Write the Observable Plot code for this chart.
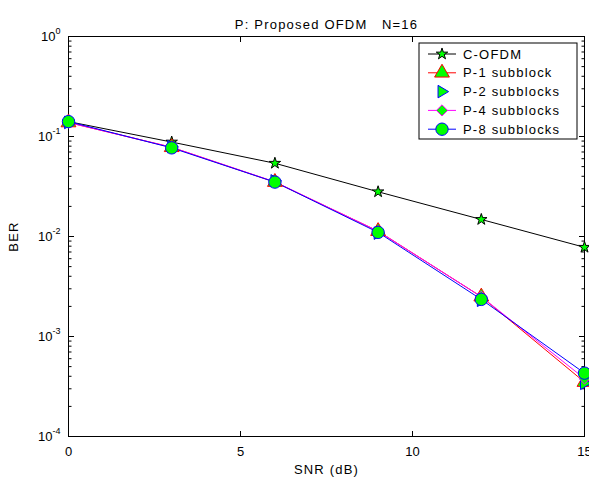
<!DOCTYPE html>
<html><head><meta charset="utf-8">
<script src="https://cdn.jsdelivr.net/npm/d3@7"></script>
<script src="https://cdn.jsdelivr.net/npm/@observablehq/plot@0.6"></script>
<style>
body{margin:0;background:#fff}
svg{font-family:"Liberation Sans",Arial,Helvetica,sans-serif}
</style>
</head><body><div id="chart"></div>
<script>
// ---- data ----
const title = "P: Proposed OFDM   N=16";
const xLabel = "SNR (dB)";
const yLabel = "BER";
const snr = [0, 3, 6, 9, 12, 15];
const seriesNames = ["C-OFDM", "P-1 subblock", "P-2 subblocks", "P-4 subblocks", "P-8 subblocks"];
const berC  = [0.141, 0.088, 0.054, 0.028, 0.0148, 0.0078];
const berP1 = [0.138, 0.078, 0.035, 0.0113, 0.0025, 0.00035];
const berP2 = [0.138, 0.079, 0.036, 0.0108, 0.0023, 0.00034];
const berP4 = [0.138, 0.078, 0.0352, 0.0113, 0.0025, 0.00038];
const berP8 = [0.141, 0.077, 0.035, 0.011, 0.00235, 0.00043];
const xTicks = [0, 5, 10, 15];
const yMajor = [1e-4, 1e-3, 1e-2, 1e-1, 1];

// ---- styles ----
const LS = "1.2px";
const triRight = {draw(ctx, size){ const s = Math.sqrt(size) * 0.62;
  ctx.moveTo(s, 0); ctx.lineTo(-s*0.6, -s*0.95); ctx.lineTo(-s*0.6, s*0.95); ctx.closePath(); }};
const styles = [
  {values: berC,  line: "black",   edge: "black",   symbol: "star",     r: 3.6},
  {values: berP1, line: "#ff0000", edge: "#ff0000", symbol: "triangle", r: 5.5},
  {values: berP2, line: null,      edge: "#0000ff", symbol: triRight,   r: 6},
  {values: berP4, line: "#ff00ff", edge: "#ff00ff", symbol: "diamond2", r: 5},
  {values: berP8, line: "#0000ff", edge: "#0000ff", symbol: "circle",   r: 6.2}
];
const series = styles.map((s, i) => ({...s, name: seriesNames[i],
  data: snr.map((x, j) => ({snr: x, ber: s.values[j]}))}));

const yMinor = [];
for (let e = -4; e < 0; e++) for (let m = 2; m <= 9; m++) yMinor.push(m * Math.pow(10, e));

const marks = [
  Plot.frame({stroke: "black", strokeWidth: 1}),
  Plot.axisX(xTicks, {anchor: "bottom", tickSize: -5, text: null, label: null}),
  Plot.axisX(xTicks, {anchor: "top", tickSize: -5, text: null, label: null}),
  Plot.axisX(xTicks, {anchor: "bottom", tickSize: 0, tickPadding: 10, fontSize: 13,
    label: xLabel, labelAnchor: "center", labelArrow: "none", labelOffset: 37}),
  Plot.axisY(yMajor, {anchor: "left", tickSize: -6, text: null, label: null}),
  Plot.axisY(yMajor, {anchor: "right", tickSize: -6, text: null, label: null}),
  Plot.axisY(yMinor, {anchor: "left", tickSize: -3.5, text: null, label: null}),
  Plot.axisY(yMinor, {anchor: "right", tickSize: -3.5, text: null, label: null}),
  Plot.axisY(yMajor, {anchor: "left", tickSize: 0, tickPadding: 8, fontSize: 13,
    tickFormat: d => "10^" + Math.round(Math.log10(d)),
    label: yLabel, labelAnchor: "center", labelArrow: "none", labelOffset: 60}),
  Plot.text([title], {frameAnchor: "top", dy: -16.5, fontSize: 13, fill: "black"})
];
for (const s of series) {
  if (s.line) marks.push(Plot.line(s.data, {x: "snr", y: "ber", stroke: s.line, strokeWidth: 1}));
}
for (const s of series) {
  marks.push(Plot.dot(s.data, {x: "snr", y: "ber", symbol: s.symbol, r: s.r,
    fill: "#00ff00", stroke: s.edge, strokeWidth: 1}));
}

const chart = Plot.plot({
  width: 589, height: 479,
  marginLeft: 68, marginRight: 5, marginTop: 36, marginBottom: 43,
  style: {fontFamily: '"Liberation Sans", Arial, sans-serif', fontSize: "13px", color: "black", background: "white"},
  x: {domain: [0, 15]},
  y: {type: "log", domain: [1e-4, 1]},
  marks
});
document.getElementById("chart").appendChild(chart);

const svg = d3.select(chart);
// letter spacing on title and axis labels (matches the wide reference lettering)
svg.selectAll('g[aria-label="text"] text, g[aria-label="x-axis label"] text, g[aria-label="y-axis label"] text')
  .style("letter-spacing", LS);
// superscript exponents on y tick labels
svg.selectAll('g[aria-label="y-axis tick label"] text').each(function(){
  const t = this.textContent; const parts = t.split("^");
  if (parts.length !== 2) return;
  const el = d3.select(this); el.text("");
  el.append("tspan").text(parts[0]);
  el.append("tspan").attr("dy", "-0.75em").attr("font-size", 9).text(parts[1]);
});

// legend
const lg = svg.append("g").attr("font-size", 13).attr("text-anchor", "start");
const lx = 419, ly = 43, lw = 158, lh = 96;
lg.append("rect").attr("x", lx).attr("y", ly).attr("width", lw).attr("height", lh)
  .attr("fill", "white").attr("stroke", "black").attr("stroke-width", 1);
const symMap = {star: d3.symbolStar, triangle: d3.symbolTriangle, diamond2: d3.symbolDiamond2, circle: d3.symbolCircle};
series.forEach((s, i) => {
  const y = ly + 11 + i * 18.8;
  if (s.line) lg.append("line").attr("x1", lx + 9).attr("x2", lx + 37).attr("y1", y).attr("y2", y)
    .attr("stroke", s.line).attr("stroke-width", 1);
  const type = typeof s.symbol === "string" ? symMap[s.symbol] : s.symbol;
  lg.append("path").attr("d", d3.symbol(type, Math.PI * s.r * s.r)())
    .attr("transform", `translate(${lx + 23},${y})`)
    .attr("fill", "#00ff00").attr("stroke", s.edge).attr("stroke-width", 1);
  lg.append("text").attr("x", lx + 44).attr("y", y).attr("dy", "0.36em")
    .attr("text-anchor", "start").attr("fill", "black").style("letter-spacing", LS).text(s.name);
});
</script></body></html>
